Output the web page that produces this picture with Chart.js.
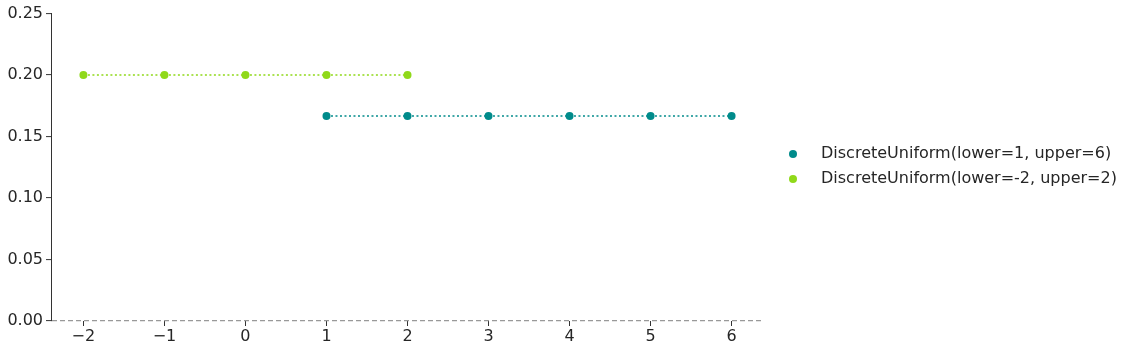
<!DOCTYPE html>
<html>
<head>
<meta charset="utf-8">
<script src="https://cdn.jsdelivr.net/npm/chart.js@4/dist/chart.umd.min.js"></script>
<style>
  html, body { margin: 0; padding: 0; background: #fff; }
  #wrap { width: 1130px; height: 353px; }
</style>
</head>
<body>
<div id="wrap"><canvas id="c" width="1130" height="353"></canvas></div>
<script>
const xA = [1, 2, 3, 4, 5, 6];
const yA = [0.1667, 0.1667, 0.1667, 0.1667, 0.1667, 0.1667];
const xB = [-2, -1, 0, 1, 2];
const yB = [0.2, 0.2, 0.2, 0.2, 0.2];
const labels = ['DiscreteUniform(lower=1, upper=6)', 'DiscreteUniform(lower=-2, upper=2)'];
const colors = ['#008b8b', '#90d91a'];
const xTicks = [-2, -1, 0, 1, 2, 3, 4, 5, 6];
const yTicks = [0, 0.05, 0.1, 0.15, 0.2, 0.25];

const FONT = { family: 'DejaVu Sans', size: 16 };
const TXT = '#262626';

const pts = (xs, ys) => xs.map((x, i) => ({ x, y: ys[i] }));

// legend drawn on the right, outside the plot area
const sideLegend = {
  id: 'sideLegend',
  afterDraw(chart) {
    const ctx = chart.ctx;
    ctx.save();
    ctx.font = `${FONT.size}px "${FONT.family}"`;
    ctx.textBaseline = 'middle';
    chart.data.datasets.forEach((ds, i) => {
      const y = 154 + i * 25;
      ctx.fillStyle = ds.pointBackgroundColor;
      ctx.beginPath();
      ctx.arc(793, y, 4, 0, Math.PI * 2);
      ctx.fill();
      ctx.fillStyle = TXT;
      ctx.fillText(ds.label, 821, y);
    });
    ctx.restore();
  },
};

new Chart(document.getElementById('c'), {
  type: 'scatter',
  data: {
    datasets: [
      { label: labels[0], data: pts(xA, yA) },
      { label: labels[1], data: pts(xB, yB) },
    ].map((d, i) => ({
      ...d,
      showLine: true,
      borderColor: colors[i],
      backgroundColor: colors[i],
      pointBackgroundColor: colors[i],
      pointBorderWidth: 0,
      pointRadius: 4,
      borderWidth: 1.5,
      borderDash: [2, 2.5],
    })),
  },
  options: {
    responsive: false,
    animation: false,
    layout: { padding: { top: 13.5, right: 366, left: 0, bottom: 0 } },
    plugins: { legend: { display: false }, tooltip: { enabled: false } },
    scales: {
      x: {
        type: 'linear',
        min: -2.4,
        max: 6.4,
        afterBuildTicks: (s) => { s.ticks = xTicks.map((v) => ({ value: v })); },
        afterFit: (s) => { s.height = 32; },
        border: { display: false },
        grid: { drawOnChartArea: false, tickLength: 5, tickColor: '#333', tickWidth: 1 },
        ticks: {
          color: TXT, font: FONT, padding: 1, maxRotation: 0,
          callback: (v) => String(v).replace('-', '\u2212'),
        },
      },
      y: {
        min: 0,
        max: 0.25,
        afterBuildTicks: (s) => { s.ticks = yTicks.map((v) => ({ value: v })); },
        afterFit: (s) => { s.width = 51; },
        border: { display: true, color: '#333', width: 1, dash: [5, 3] },
        grid: {
          drawOnChartArea: true,
          color: (c) => (c.tick && c.tick.value === 0 ? '#999' : 'rgba(0,0,0,0)'),
          lineWidth: 1.2,
          tickLength: 5, tickColor: '#333', tickWidth: 1, tickBorderDash: [],
        },
        ticks: { color: TXT, font: FONT, padding: 3, callback: (v) => Number(v).toFixed(2) },
      },
    },
  },
  plugins: [sideLegend],
});
</script>
</body>
</html>
